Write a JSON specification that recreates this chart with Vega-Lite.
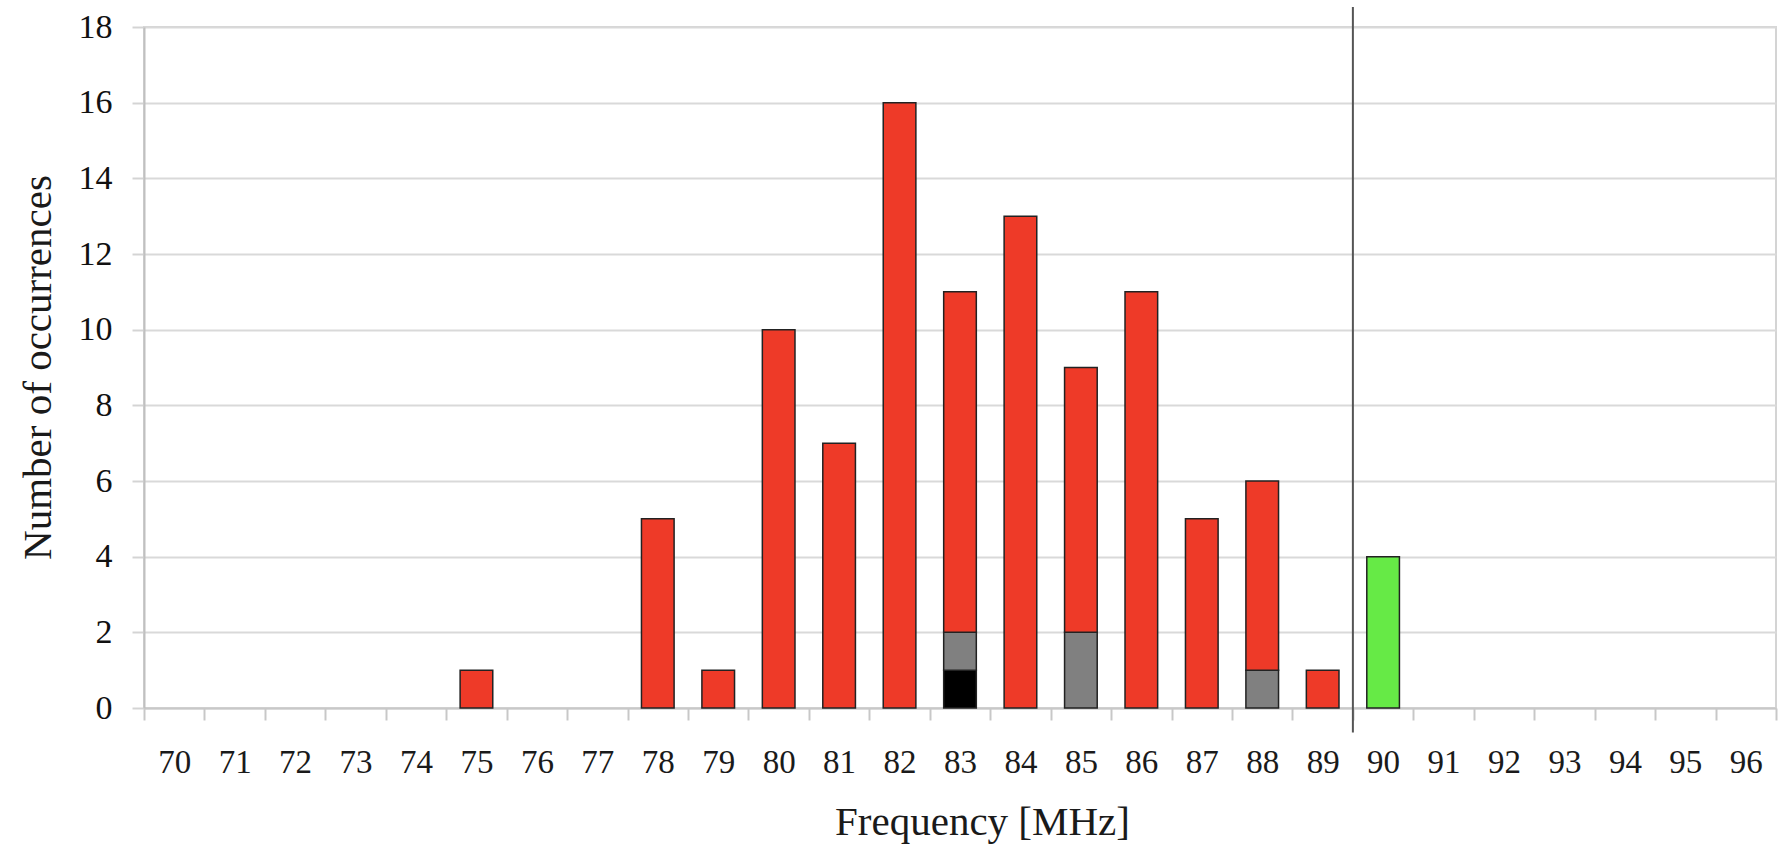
{
  "$schema": "https://vega.github.io/schema/vega-lite/v6.json",
  "autosize": "none",
  "width": 1632,
  "height": 681,
  "padding": {"left": 144, "top": 27, "right": 5, "bottom": 137},
  "background": "white",
  "config": {
    "view": {"stroke": "#d4d4d4", "strokeWidth": 2},
    "font": "Liberation Serif"
  },
  "layer": [
    {
      "data": {
        "values": [
          {"f": 75, "type": "red", "n": 1},
          {"f": 78, "type": "red", "n": 5},
          {"f": 79, "type": "red", "n": 1},
          {"f": 80, "type": "red", "n": 10},
          {"f": 81, "type": "red", "n": 7},
          {"f": 82, "type": "red", "n": 16},
          {"f": 83, "type": "black", "n": 1},
          {"f": 83, "type": "gray", "n": 1},
          {"f": 83, "type": "red", "n": 9},
          {"f": 84, "type": "red", "n": 13},
          {"f": 85, "type": "gray", "n": 2},
          {"f": 85, "type": "red", "n": 7},
          {"f": 86, "type": "red", "n": 11},
          {"f": 87, "type": "red", "n": 5},
          {"f": 88, "type": "gray", "n": 1},
          {"f": 88, "type": "red", "n": 5},
          {"f": 89, "type": "red", "n": 1},
          {"f": 90, "type": "green", "n": 4}
        ]
      },
      "mark": {"type": "bar", "width": {"band": 0.54}, "stroke": "#222222", "strokeWidth": 1.5},
      "encoding": {
        "x": {
          "field": "f",
          "type": "ordinal",
          "scale": {
            "domain": [70,71,72,73,74,75,76,77,78,79,80,81,82,83,84,85,86,87,88,89,90,91,92,93,94,95,96],
            "paddingInner": 0,
            "paddingOuter": 0
          },
          "axis": {
            "title": "Frequency [MHz]",
            "titleFont": "Liberation Serif",
            "titleFontSize": 41,
            "titleFontWeight": "normal",
            "titleColor": "#1a1a1a",
            "titleX": 838,
            "titleY": 126,
            "titleBaseline": "alphabetic",
            "titleAlign": "center",
            "labelAngle": 0,
            "labelFont": "Liberation Serif",
            "labelFontSize": 33,
            "labelColor": "#1a1a1a",
            "labelPadding": 26,
            "tickBand": "extent",
            "tickSize": 12,
            "tickColor": "#c8c8c8",
            "tickWidth": 2,
            "domainColor": "#c8c8c8",
            "domainWidth": 2,
            "grid": false
          }
        },
        "y": {
          "field": "n",
          "type": "quantitative",
          "stack": "zero",
          "scale": {"domain": [0, 18], "nice": false},
          "axis": {
            "title": "Number of occurrences",
            "titleFont": "Liberation Serif",
            "titleFontSize": 41,
            "titleFontWeight": "normal",
            "titleColor": "#1a1a1a",
            "titleX": -94,
            "titleY": 340,
            "titleBaseline": "alphabetic",
            "titleAlign": "center",
            "values": [0, 2, 4, 6, 8, 10, 12, 14, 16, 18],
            "labelFont": "Liberation Serif",
            "labelFontSize": 34,
            "labelFontWeight": "normal",
            "labelColor": "#111111",
            "labelPadding": 20,
            "tickSize": 12,
            "tickColor": "#d4d4d4",
            "tickWidth": 2,
            "domainColor": "#c0c0c0",
            "domainWidth": 2,
            "grid": true,
            "gridColor": "#d9d9d9",
            "gridWidth": 2
          }
        },
        "color": {
          "field": "type",
          "type": "nominal",
          "scale": {
            "domain": ["black", "gray", "green", "red"],
            "range": ["#000000", "#808080", "#66EA46", "#EE3A28"]
          },
          "legend": null
        },
        "order": {"field": "type", "sort": "ascending"}
      }
    },
    {
      "data": {"values": [{"f": 90}]},
      "mark": {"type": "rule", "color": "#555555", "strokeWidth": 2},
      "encoding": {
        "x": {"field": "f", "type": "ordinal", "bandPosition": 0},
        "y": {"datum": 18.53, "type": "quantitative"},
        "y2": {"datum": -0.65}
      }
    }
  ]
}
